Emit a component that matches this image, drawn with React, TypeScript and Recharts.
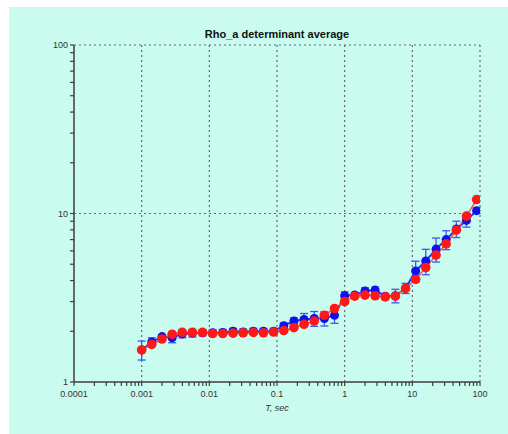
// Rho_a determinante promedio vs. periodo, ejes log-log (recharts).
import { LineChart, Line, XAxis, YAxis, ErrorBar, ReferenceLine } from 'recharts'

// Periodos T (s)
const periods = [
  0.001, 0.00141, 0.002, 0.00282, 0.00398, 0.00562, 0.00794, 0.0112, 0.0158, 0.0224,
  0.0316, 0.0447, 0.0631, 0.0891, 0.126, 0.178, 0.251, 0.355, 0.501, 0.708,
  1.0, 1.41, 2.0, 2.82, 3.98, 5.62, 7.94, 11.2, 15.8, 22.4,
  31.6, 44.7, 63.1, 89.1,
]

// Serie roja
const redRho = [
  1.55, 1.67, 1.8, 1.92, 1.97, 1.97, 1.97, 1.94, 1.94, 1.95,
  1.96, 1.97, 1.96, 1.98, 2.02, 2.1, 2.2, 2.3, 2.49, 2.73,
  3.0, 3.23, 3.28, 3.25, 3.2, 3.23, 3.59, 4.06, 4.78, 5.66,
  6.6, 7.96, 9.65, 12.1,
]

// Serie azul y su barra de error
const blueRho = [
  1.55, 1.73, 1.86, 1.83, 1.93, 1.95, 1.96, 1.96, 1.97, 2.0,
  1.98, 2.0, 2.0, 2.0, 2.16, 2.3, 2.35, 2.38, 2.38, 2.49,
  3.25, 3.28, 3.47, 3.51, 3.23, 3.25, 3.6, 4.56, 5.23, 6.15,
  7.0, 8.1, 9.1, 10.4,
]
const blueErr = [
  0.2, 0.1, 0.05, 0.12, 0.1, 0.1, 0.08, 0.08, 0.08, 0.08,
  0.08, 0.08, 0.08, 0.08, 0.08, 0.1, 0.2, 0.24, 0.23, 0.26,
  0.18, 0.12, 0.15, 0.15, 0.12, 0.3, 0.25, 0.65, 0.9, 1.0,
  0.9, 0.9, 0.8, 0.4,
]

const xMajor = [0.0001, 0.001, 0.01, 0.1, 1, 10, 100]
const xLabels = ['0.0001', '0.001', '0.01', '0.1', '1', '10', '100']
const yMajor = [1, 10, 100]
const yLabels = ['1', '10', '100']

const minorsOf = (majors: number[]) => {
  const out: number[] = []
  majors.forEach((m, i) => {
    out.push(m)
    if (i < majors.length - 1) for (let k = 2; k <= 9; k++) out.push(Number((m * k).toPrecision(3)))
  })
  return out
}
const xTicks = minorsOf(xMajor)
const yTicks = minorsOf(yMajor)

const data = periods.map((t, i) => ({
  t,
  red: redRho[i],
  blue: blueRho[i],
  blueErr: blueErr[i],
}))

const AXIS = '#3e3e3e'
const BG = '#c9fcee'
const FONT = 'Liberation Sans, Arial, sans-serif'

function XTick(props: any) {
  const { x, y, payload } = props
  const idx = xMajor.findIndex((m) => Math.abs(m - payload.value) < m * 1e-6)
  if (idx < 0) return <g />
  return (
    <text x={x} y={y + 11} textAnchor="middle" fontSize={9} fill="#333" fontFamily={FONT}>
      {xLabels[idx]}
    </text>
  )
}

function YTick(props: any) {
  const { x, y, payload } = props
  const idx = yMajor.findIndex((m) => Math.abs(m - payload.value) < m * 1e-6)
  if (idx < 0) return <g />
  return (
    <text x={x - 2} y={y + 3} textAnchor="end" fontSize={9} fill="#333" fontFamily={FONT}>
      {yLabels[idx]}
    </text>
  )
}

export default function App() {
  return (
    <div style={{ position: 'absolute', left: 9, top: 7, width: 499, height: 427, background: BG, fontFamily: FONT }}>
      <div
        style={{
          position: 'absolute',
          left: 0,
          width: 536,
          top: 21,
          textAlign: 'center',
          fontSize: 11,
          fontWeight: 'bold',
          color: '#111',
        }}
      >
        Rho_a determinant average
      </div>
      <div
        style={{
          position: 'absolute',
          left: 0,
          width: 536,
          top: 396,
          textAlign: 'center',
          fontSize: 9,
          fontStyle: 'italic',
          color: '#333',
        }}
      >
        T, sec
      </div>
      <LineChart
        width={499}
        height={427}
        data={data}
        margin={{ top: 38, right: 28, bottom: 22, left: 25 }}
        style={{ position: 'absolute', left: 0, top: 0 }}
      >
        <XAxis
          dataKey="t"
          type="number"
          scale="log"
          domain={[0.0001, 100]}
          allowDataOverflow
          ticks={xTicks}
          interval={0}
          height={30}
          tickSize={4}
          tickMargin={0}
          tickLine={{ stroke: AXIS, strokeWidth: 1.2 }}
          tick={<XTick />}
          axisLine={{ stroke: AXIS, strokeWidth: 1.5 }}
        />
        <YAxis
          type="number"
          scale="log"
          domain={[1, 100]}
          allowDataOverflow
          ticks={yTicks}
          interval={0}
          width={40}
          tickSize={4}
          tickMargin={0}
          tickLine={{ stroke: AXIS, strokeWidth: 1.2 }}
          tick={<YTick />}
          axisLine={{ stroke: AXIS, strokeWidth: 1.5 }}
        />
        {xMajor.slice(1).map((v) => (
          <ReferenceLine key={'x' + v} x={v} stroke="#667" strokeDasharray="2 3" strokeWidth={1.2} />
        ))}
        {yMajor.slice(1).map((v) => (
          <ReferenceLine key={'y' + v} y={v} stroke="#667" strokeDasharray="2 3" strokeWidth={1.2} />
        ))}
        <Line
          dataKey="blue"
          stroke="#2438f4"
          strokeWidth={2}
          dot={{ r: 4.5, fill: '#1010ee', stroke: 'none' }}
          isAnimationActive={false}
        >
          <ErrorBar dataKey="blueErr" direction="y" width={4} stroke="#3a5af0" strokeWidth={1.3} />
        </Line>
        <Line
          dataKey="red"
          stroke="#ff5050"
          strokeWidth={1.5}
          dot={{ r: 4.8, fill: '#ff1818', stroke: 'none' }}
          isAnimationActive={false}
        />
      </LineChart>
    </div>
  )
}
